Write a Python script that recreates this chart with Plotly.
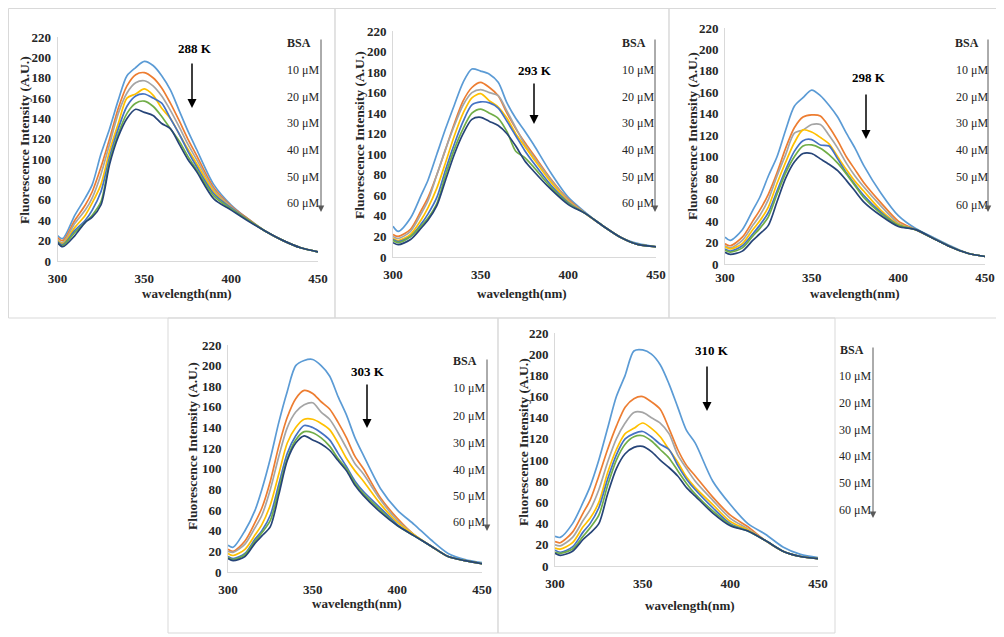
import plotly.graph_objects as go

W, H = 1004, 637          # target picture size (px)
OFF = 8                   # page body margin of the html page
FW, FH = W - OFF, H - OFF # figure size so that the figure ends at the window edge

wavelength = [300, 303, 310, 316, 320, 325, 330, 335, 340, 345, 350, 355, 360, 365,
              370, 375, 380, 390, 400, 410, 420, 430, 440, 450]

series_names = ["0 μM", "10 μM", "20 μM", "30 μM", "40 μM", "50 μM", "60 μM"]
series_colors = ["#5B9BD5", "#ED7D31", "#A5A5A5", "#FFC000", "#4472C4", "#70AD47", "#264478"]

temps = ["288 K", "293 K", "298 K", "303 K", "310 K"]

# 288 K
p288 = [
    [25, 22, 45, 62, 75, 105, 130, 158, 182, 190, 196, 192, 182, 168, 148, 128, 110, 75, 55, 41, 29, 20, 13, 9],
    [23, 20, 40, 55, 68, 92, 120, 150, 172, 183, 185, 180, 170, 155, 138, 120, 104, 72, 54, 41, 29, 20, 13, 9],
    [21, 18, 37, 50, 62, 85, 115, 145, 165, 175, 177, 172, 162, 148, 132, 115, 100, 70, 53, 40, 29, 20, 13, 9],
    [20, 17, 33, 45, 57, 75, 108, 135, 160, 164, 169, 163, 150, 140, 125, 110, 96, 68, 52, 40, 29, 20, 13, 9],
    [19, 16, 30, 40, 50, 68, 102, 130, 152, 162, 164, 160, 155, 140, 125, 108, 93, 66, 52, 40, 29, 20, 13, 9],
    [18, 15, 28, 38, 45, 58, 98, 125, 145, 155, 157, 152, 142, 130, 118, 103, 90, 64, 51, 40, 29, 20, 13, 9],
    [18, 14, 25, 38, 43, 55, 95, 122, 140, 149, 146, 143, 135, 130, 115, 100, 88, 61, 50, 39, 29, 20, 13, 9],
]
# 293 K
p293 = [
    [30, 25, 38, 60, 75, 100, 125, 148, 170, 183, 181, 178, 170, 150, 135, 123, 110, 82, 58, 43, 30, 19, 13, 10],
    [22, 20, 27, 45, 58, 80, 105, 130, 152, 165, 170, 165, 157, 140, 125, 112, 100, 76, 56, 42, 30, 19, 12, 10],
    [20, 18, 25, 42, 55, 80, 105, 128, 148, 160, 163, 160, 157, 142, 126, 110, 98, 75, 55, 42, 30, 19, 12, 10],
    [18, 16, 22, 36, 48, 67, 92, 118, 140, 155, 159, 152, 146, 135, 120, 108, 96, 73, 54, 42, 30, 19, 12, 10],
    [17, 15, 20, 32, 42, 58, 85, 110, 132, 148, 151, 150, 145, 132, 118, 104, 92, 70, 53, 42, 30, 19, 12, 10],
    [16, 14, 20, 30, 38, 52, 80, 105, 125, 140, 144, 140, 135, 122, 103, 97, 88, 68, 52, 42, 30, 19, 12, 10],
    [14, 12, 17, 28, 36, 50, 75, 100, 120, 134, 136, 132, 128, 120, 108, 94, 84, 66, 51, 42, 30, 19, 12, 10],
]
# 298 K
p298 = [
    [25, 22, 32, 50, 62, 82, 100, 125, 147, 155, 162, 157, 148, 137, 122, 108, 92, 66, 45, 33, 25, 17, 10, 7],
    [19, 17, 25, 40, 50, 65, 85, 108, 127, 137, 139, 138, 128, 115, 100, 88, 76, 57, 40, 32, 24, 16, 10, 7],
    [17, 15, 22, 36, 45, 60, 82, 102, 122, 125, 130, 130, 120, 108, 94, 82, 72, 54, 38, 32, 24, 16, 10, 7],
    [16, 14, 19, 32, 40, 53, 75, 95, 113, 125, 123, 118, 112, 100, 88, 77, 68, 50, 37, 32, 24, 16, 10, 7],
    [14, 12, 17, 28, 36, 48, 68, 88, 105, 115, 116, 111, 110, 98, 85, 74, 64, 48, 36, 32, 24, 16, 10, 7],
    [13, 11, 15, 26, 33, 44, 65, 85, 100, 110, 111, 108, 102, 94, 84, 73, 62, 47, 36, 32, 24, 16, 10, 7],
    [11, 9, 12, 22, 28, 36, 58, 80, 95, 103, 103, 98, 93, 87, 78, 68, 58, 45, 35, 32, 24, 16, 10, 7],
]
# 303 K
p303 = [
    [26, 24, 40, 60, 80, 110, 145, 175, 200, 205, 206, 200, 190, 170, 152, 130, 113, 81, 60, 46, 31, 18, 12, 9],
    [22, 20, 30, 48, 62, 88, 122, 150, 168, 176, 173, 165, 158, 145, 130, 112, 100, 72, 52, 36, 25, 15, 11, 8],
    [20, 19, 27, 43, 55, 80, 112, 140, 155, 162, 164, 155, 148, 135, 120, 105, 95, 70, 50, 36, 25, 15, 11, 8],
    [18, 16, 22, 36, 46, 65, 95, 125, 140, 148, 148, 144, 138, 125, 110, 98, 88, 66, 48, 36, 25, 15, 11, 8],
    [15, 13, 18, 32, 40, 55, 85, 115, 132, 142, 140, 135, 128, 115, 102, 88, 78, 62, 46, 35, 25, 15, 11, 8],
    [14, 12, 17, 30, 38, 50, 80, 110, 128, 136, 135, 130, 122, 110, 100, 86, 76, 60, 45, 35, 25, 15, 11, 8],
    [13, 11, 15, 28, 35, 44, 75, 108, 125, 132, 128, 124, 118, 108, 98, 84, 74, 58, 45, 35, 25, 15, 11, 8],
]
# 310 K
p310 = [
    [28, 27, 40, 60, 75, 100, 130, 160, 180, 203, 204, 200, 190, 172, 150, 128, 116, 80, 58, 40, 30, 18, 11, 8],
    [23, 22, 32, 50, 62, 85, 110, 132, 150, 158, 160, 155, 148, 130, 110, 95, 85, 65, 48, 37, 24, 14, 9, 7],
    [20, 19, 27, 43, 53, 72, 98, 120, 135, 145, 145, 140, 135, 125, 105, 92, 80, 62, 45, 35, 24, 14, 9, 7],
    [17, 16, 22, 37, 45, 60, 88, 110, 125, 130, 135, 130, 122, 110, 98, 84, 74, 58, 42, 34, 24, 14, 9, 7],
    [15, 13, 18, 32, 40, 55, 82, 105, 120, 125, 127, 122, 115, 110, 95, 82, 72, 55, 40, 33, 24, 14, 9, 7],
    [13, 12, 16, 28, 36, 48, 76, 100, 115, 122, 123, 118, 110, 102, 90, 78, 68, 52, 39, 33, 24, 14, 9, 7],
    [12, 10, 14, 25, 31, 40, 68, 92, 106, 112, 113, 108, 100, 93, 85, 74, 66, 50, 38, 33, 24, 14, 9, 7],
]
panel_data = [p288, p293, p298, p303, p310]

bsa_labels = ["BSA", "10 μM", "20 μM", "30 μM", "40 μM", "50 μM", "60 μM"]
y_ticks = list(range(0, 221, 20))
x_ticks = [300, 350, 400, 450]

# ---- layout geometry (pixels in the target picture) ----
panels = [
    dict(plot=(57.5, 318, 37, 261), box=(8.5, 335, 8.5, 318), ytitle=(24, 140), xtitle=(187, 293), xtl=5,
         temp=(195, 48), tarrow=(192, 62, 108), bsa_x=(299, 303), bsa_y=[43, 70, 97, 123, 150, 177, 203], barrow=(321, 38, 212)),
    dict(plot=(393, 656, 31, 257), box=(335, 669, 8.5, 318), ytitle=(360, 135), xtitle=(522, 293), xtl=5,
         temp=(535, 71), tarrow=(534, 82, 124), bsa_x=(634, 638), bsa_y=[43, 70, 97, 123, 150, 177, 203], barrow=(655, 38, 212)),
    dict(plot=(725, 985, 28, 264), box=(669, 1003, 8.5, 318), ytitle=(693, 136), xtitle=(855, 293), xtl=1,
         temp=(869, 77), tarrow=(866, 93, 139), bsa_x=(967, 972), bsa_y=[43, 70, 97, 123, 150, 177, 205], barrow=(988, 38, 212)),
    dict(plot=(228, 482, 345, 572), box=(168, 498, 318, 633), ytitle=(192, 446), xtitle=(357, 603), xtl=5,
         temp=(368, 371), tarrow=(367, 383, 428), bsa_x=(465, 469), bsa_y=[361, 388, 416, 443, 470, 496, 522], barrow=(487, 358, 531)),
    dict(plot=(555, 818, 333, 566), box=(498, 835, 318, 633), ytitle=(523, 442), xtitle=(690, 605), xtl=5,
         temp=(712, 350), tarrow=(707, 365, 411), bsa_x=(852, 855), bsa_y=[350, 376, 403, 430, 456, 483, 510], barrow=(873, 346, 518)),
]

def px(x):
    return (x - OFF) / FW

def py(y):
    return 1 - (y - OFF) / FH

SERIF = "Liberation Serif, Times New Roman, serif"

fig = go.Figure()
shapes = []
annotations = []

def label(text, x, y, size, color="#262626", angle=0):
    return dict(text=text, x=px(x), y=py(y), xref="paper", yref="paper", showarrow=False,
                xanchor="center", yanchor="middle", textangle=angle,
                font=dict(family=SERIF, size=size, color=color))

for i, (p, data) in enumerate(zip(panels, panel_data)):
    n = i + 1
    xa = "x" if n == 1 else f"x{n}"
    ya = "y" if n == 1 else f"y{n}"
    for name, color, vals in zip(series_names, series_colors, data):
        fig.add_trace(go.Scatter(x=wavelength, y=vals, mode="lines", name=name,
                                 line=dict(color=color, width=1.7, shape="spline", smoothing=0.8),
                                 xaxis=xa, yaxis=ya, showlegend=False, hoverinfo="skip"))
    x0, x1, y0, y1 = p["plot"]
    axis_common = dict(showgrid=False, zeroline=False, showline=True, linecolor="#D9D9D9", linewidth=1,
                       tickfont=dict(family=SERIF, size=13, color="#262626", weight="bold"), ticks="outside",
                       tickcolor="rgba(0,0,0,0)", fixedrange=True, automargin=False)
    fig.layout[f"xaxis{'' if n == 1 else n}"] = dict(domain=[px(x0), px(x1)], range=[300, 450], tickvals=x_ticks,
                                                     anchor=ya, ticklen=p["xtl"], **axis_common)
    fig.layout[f"yaxis{'' if n == 1 else n}"] = dict(domain=[py(y1), py(y0)], range=[0, 220], tickvals=y_ticks,
                                                     anchor=xa, ticklen=3, **axis_common)
    bx0, bx1, by0, by1 = p["box"]
    shapes.append(dict(type="rect", xref="paper", yref="paper", x0=px(bx0), x1=px(bx1), y0=py(by1), y1=py(by0),
                       line=dict(color="#D9D9D9", width=1), fillcolor="rgba(0,0,0,0)", layer="below"))
    annotations.append(label("<b>Fluorescence Intensity (A.U.)</b>", p["ytitle"][0], p["ytitle"][1], 13.5, angle=-90))
    annotations.append(label("<b>wavelength(nm)</b>", p["xtitle"][0], p["xtitle"][1], 13))
    annotations.append(label(f"<b>{temps[i]}</b>", p["temp"][0], p["temp"][1], 13, color="#000000"))
    ax_, ay0, ay1 = p["tarrow"]
    annotations.append(dict(text="", x=px(ax_), y=py(ay1), xref="paper", yref="paper",
                            showarrow=True, ax=0, ay=-(ay1 - ay0), arrowhead=2, arrowsize=1.2,
                            arrowwidth=1.5, arrowcolor="#000000"))
    for j, lab in enumerate(bsa_labels):
        txt = f"<b>{lab}</b>" if j == 0 else lab
        annotations.append(label(txt, p["bsa_x"][0] if j == 0 else p["bsa_x"][1], p["bsa_y"][j], 12))
    bx, b0, b1 = p["barrow"]
    annotations.append(dict(text="", x=px(bx), y=py(b1), xref="paper", yref="paper",
                            showarrow=True, ax=0, ay=-(b1 - b0), arrowhead=2, arrowsize=1.3,
                            arrowwidth=1, arrowcolor="#595959"))

fig.update_layout(width=FW, height=FH, margin=dict(l=0, r=0, t=0, b=0, autoexpand=False),
                  paper_bgcolor="white", plot_bgcolor="white",
                  shapes=shapes, annotations=annotations, showlegend=False)

fig.write_html("out.html")
